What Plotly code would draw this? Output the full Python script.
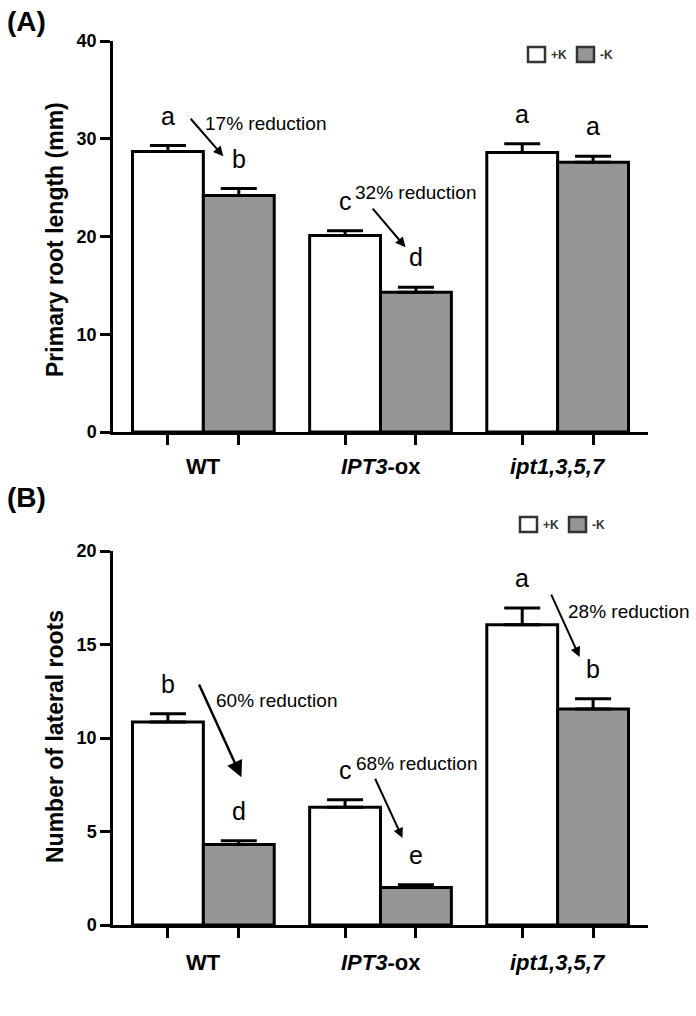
import plotly.graph_objects as go
import numpy as np

# ---------------- data ----------------
genotypes = ["WT", "IPT3-ox", "ipt1,3,5,7"]
genotype_labels = ["<b>WT</b>", "<b><i>IPT3</i>-ox</b>", "<b><i>ipt1,3,5,7</i></b>"]
treatments = ["+K", "-K"]

root_len_plusK = [28.7, 20.1, 28.6]
root_len_plusK_se = [0.6, 0.5, 0.9]
root_len_minusK = [24.2, 14.3, 27.6]
root_len_minusK_se = [0.7, 0.5, 0.6]

lat_plusK = [10.85, 6.3, 16.05]
lat_plusK_se = [0.45, 0.4, 0.9]
lat_minusK = [4.3, 2.0, 11.55]
lat_minusK_se = [0.2, 0.15, 0.55]

letters_len_plusK = ["a", "c", "a"]
letters_len_minusK = ["b", "d", "a"]
letters_lat_plusK = ["b", "c", "a"]
letters_lat_minusK = ["d", "e", "b"]

reduction_len = ["17% reduction", "32% reduction"]
reduction_lat = ["60% reduction", "68% reduction", "28% reduction"]

# ---------------- style ----------------
W, H = 696, 1016
FONT = "Arial, Liberation Sans, sans-serif"
WHITE = "#ffffff"
GRAY = "#969696"
BAR_W = 0.4
OFF = 0.2

def px(x):
    return x / W

def py(y):
    return 1 - y / H

idx = np.arange(len(genotypes))
x_plus = idx - OFF
x_minus = idx + OFF

fig = go.Figure()

def add_panel(xa, ya, plus, plus_se, minus, minus_se):
    for xs, vals, se, col, name in [(x_plus, plus, plus_se, WHITE, treatments[0]),
                                    (x_minus, minus, minus_se, GRAY, treatments[1])]:
        fig.add_trace(go.Bar(
            x=xs, y=vals, width=BAR_W, name=name, showlegend=False,
            marker=dict(color=col, line=dict(color="black", width=3)),
            error_y=dict(type="data", array=se, arrayminus=[0] * len(se),
                         symmetric=False, color="black", thickness=3, width=18),
            xaxis=xa, yaxis=ya))

add_panel("x", "y", root_len_plusK, root_len_plusK_se, root_len_minusK, root_len_minusK_se)
add_panel("x2", "y2", lat_plusK, lat_plusK_se, lat_minusK, lat_minusK_se)

xdom = [px(113), px(648)]
axis_common = dict(showline=True, linecolor="black", linewidth=2.5, ticks="outside",
                   ticklen=10, tickwidth=2.5, tickcolor="black", showgrid=False,
                   zeroline=False, automargin=False,
                   tickfont=dict(family=FONT, size=18, color="black"))
tickvals = sorted(list(x_plus) + list(x_minus))

fig.update_layout(
    width=W, height=H, autosize=False,
    margin=dict(l=0, r=0, t=0, b=0, pad=0, autoexpand=False),
    plot_bgcolor="white", paper_bgcolor="white", barmode="overlay", showlegend=False,
    font=dict(family=FONT, color="black"),
    xaxis=dict(domain=xdom, range=[-0.51, 2.51], anchor="y",
               tickvals=tickvals, ticktext=[""] * 6, **axis_common),
    yaxis=dict(domain=[py(432), py(41)], range=[0, 40], dtick=10, anchor="x",
               tickprefix="<b>", ticksuffix="</b>", **axis_common),
    xaxis2=dict(domain=xdom, range=[-0.51, 2.51], anchor="y2",
                tickvals=tickvals, ticktext=[""] * 6, **axis_common),
    yaxis2=dict(domain=[py(925), py(551)], range=[0, 20], dtick=5, anchor="x2",
                tickprefix="<b>", ticksuffix="</b>", **axis_common),
)

ann = []

# category labels
for i, lab in enumerate(genotype_labels):
    ann.append(dict(x=i, y=0, xref="x", yref="y domain", text=lab, showarrow=False,
                    xanchor="center", yanchor="middle", yshift=-34, font=dict(size=22)))
    ann.append(dict(x=i, y=0, xref="x2", yref="y2 domain", text=lab, showarrow=False,
                    xanchor="center", yanchor="middle", yshift=-37, font=dict(size=22)))

# significance letters
def add_letters(xr, yr, xs, vals, se, letters):
    for x, v, s, l in zip(xs, vals, se, letters):
        ann.append(dict(x=x, y=v + s, xref=xr, yref=yr, text=l, showarrow=False,
                        xanchor="center", yanchor="middle", yshift=30, font=dict(size=25)))

add_letters("x", "y", x_plus, root_len_plusK, root_len_plusK_se, letters_len_plusK)
add_letters("x", "y", x_minus, root_len_minusK, root_len_minusK_se, letters_len_minusK)
add_letters("x2", "y2", x_plus, lat_plusK, lat_plusK_se, letters_lat_plusK)
add_letters("x2", "y2", x_minus, lat_minusK, lat_minusK_se, letters_lat_minusK)

# reduction texts and arrows
red_top_pos = [(0.0, 31.6, (-0.079, 32.2), (0.113, 28.2), 2, 1.0),
               (0.842, 24.55, (0.949, 23.0), (1.141, 18.9), 2, 1.0)]
red_bot_pos = [(0.062, 12.03, (-0.028, 12.94), (0.215, 7.9), 2.5, 1.3),
               (0.853, 8.66, (0.966, 7.9), (1.124, 4.65), 2, 1.0),
               (2.045, 16.74, (1.96, 17.75), (2.124, 14.33), 2, 1.0)]

def add_reductions(xr, yr, texts, poss):
    for t, (tx, ty, tail, head, aw, asz) in zip(texts, poss):
        ann.append(dict(x=tx, y=ty, xref=xr, yref=yr, text=t, showarrow=False,
                        xanchor="left", yanchor="middle", font=dict(size=19)))
        ann.append(dict(x=head[0], y=head[1], ax=tail[0], ay=tail[1], xref=xr, yref=yr,
                        axref=xr, ayref=yr, text="", showarrow=True, arrowhead=2,
                        arrowsize=asz, arrowwidth=aw, arrowcolor="black", standoff=0))

add_reductions("x", "y", reduction_len, red_top_pos)
add_reductions("x2", "y2", reduction_lat, red_bot_pos)

# axis titles
ann.append(dict(x=px(55), y=py(240), xref="paper", yref="paper",
                text="<b>Primary root length (mm)</b>", textangle=-90, showarrow=False,
                xanchor="center", yanchor="middle", font=dict(size=23)))
ann.append(dict(x=px(55), y=py(737), xref="paper", yref="paper",
                text="<b>Number of lateral roots</b>", textangle=-90, showarrow=False,
                xanchor="center", yanchor="middle", font=dict(size=23)))

# panel labels
ann.append(dict(x=px(5), y=py(22), xref="paper", yref="paper", text="<b>(A)</b>",
                showarrow=False, xanchor="left", yanchor="middle", font=dict(size=28)))
ann.append(dict(x=px(5), y=py(497), xref="paper", yref="paper", text="<b>(B)</b>",
                showarrow=False, xanchor="left", yanchor="middle", font=dict(size=28)))

# custom legends
shapes = []
def add_legend(sq1, sq2, ytop, ybot):
    for (x0, x1), col, lab in [(sq1, WHITE, treatments[0]), (sq2, GRAY, treatments[1])]:
        shapes.append(dict(type="rect", xref="paper", yref="paper",
                           x0=px(x0), x1=px(x1), y0=py(ybot), y1=py(ytop),
                           fillcolor=col, line=dict(color="#333333", width=2.5)))
        ann.append(dict(x=px(x1 + 4), y=py((ytop + ybot) / 2), xref="paper", yref="paper",
                        text="<b>" + lab + "</b>", showarrow=False, xanchor="left",
                        yanchor="middle", font=dict(size=12, color="#333333")))

add_legend((528, 545), (577, 594), 47, 62)
add_legend((520, 537), (569, 586), 517, 532)

fig.update_layout(annotations=ann, shapes=shapes)
fig.write_html("out.html", config={"displayModeBar": False},
               post_script="document.body.style.margin='0';document.body.style.overflow='hidden';")
